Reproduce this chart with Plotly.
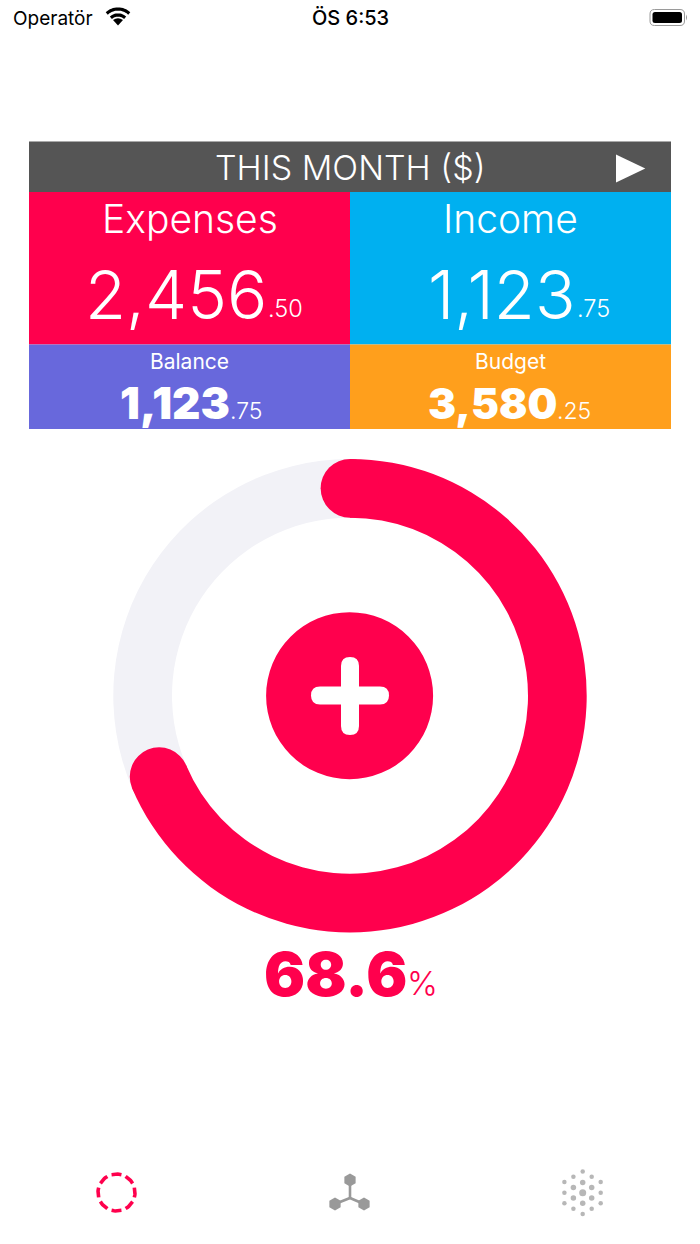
import math
import plotly.graph_objects as go

# ---- data ----
period_title = "THIS MONTH ($)"
panel_names = ["Expenses", "Income", "Balance", "Budget"]
panel_values = [2456.50, 1123.75, 1123.75, 3580.25]
spent = 2456.50
budget = 3580.25
percent_label = "68.6"
status_carrier = "Operatör"
status_time = "ÖS 6:53"

# ---- styles ----
RED, BLUE, PURPLE, ORANGE = "#FF004D", "#00B0F0", "#6868DC", "#FF9F1C"
DARK, TRACK, GREY = "#555555", "#F2F2F7", "#999999"
FONT = "Inter"
W, H = 700, 1244
CX, CY, R_OUT, R_IN = 350, 695.7, 236.7, 178


def split_value(v):
    whole, frac = f"{v:,.2f}".split(".")
    return whole, "." + frac


def rect(x0, y0, x1, y1, color):
    return dict(type="rect", x0=x0, y0=y0, x1=x1, y1=y1, fillcolor=color,
                line_width=0, layer="below", xref="x", yref="y")


def circle(cx, cy, r, color):
    return dict(type="circle", x0=cx - r, y0=cy - r, x1=cx + r, y1=cy + r,
                fillcolor=color, line_width=0, layer="above", xref="x", yref="y")


def rrect_path(x0, y0, x1, y1, r):
    return (f"M{x0+r},{y0} L{x1-r},{y0} Q{x1},{y0} {x1},{y0+r} L{x1},{y1-r} Q{x1},{y1} {x1-r},{y1} "
            f"L{x0+r},{y1} Q{x0},{y1} {x0},{y1-r} L{x0},{y0+r} Q{x0},{y0} {x0+r},{y0} Z")


def text(x, y, s, size, color="white", weight=400, anchor="center"):
    return dict(x=x, y=y, xref="x", yref="y", text=s, showarrow=False, xanchor=anchor, yanchor="middle",
                borderpad=0, font=dict(family=FONT, size=size, color=color, weight=weight))


def arc_path(cx, cy, r, a0, a1, n=16):
    pts = []
    for i in range(n + 1):
        a = math.radians(a0 + (a1 - a0) * i / n)
        pts.append((cx + r * math.sin(a), cy - r * math.cos(a)))
    return "M" + " L".join(f"{x:.2f},{y:.2f}" for x, y in pts)


shapes = [
    rect(29, 141.5, 671, 192, DARK),
    rect(29, 192, 350, 344.5, RED),
    rect(350, 192, 671, 344.5, BLUE),
    rect(29, 344.5, 350, 429, PURPLE),
    rect(350, 344.5, 671, 429, ORANGE),
]

# play button
shapes.append(dict(type="path", path="M618.5,158.5 L639.5,168.5 L618.5,178.5 Z", fillcolor="white",
                   line=dict(color="white", width=5), layer="above", xref="x", yref="y"))

# ring end caps follow the share of budget spent
share = spent / budget
R_MID = (R_OUT + R_IN) / 2
CAP = (R_OUT - R_IN) / 2
end_a = math.radians(share * 360)
shapes.append(circle(CX, CY - R_MID, CAP, RED))
shapes.append(circle(CX + R_MID * math.sin(end_a), CY - R_MID * math.cos(end_a), CAP, RED))

# add button
shapes.append(circle(349.6, CY, 83.5, RED))
shapes.append(dict(type="path", path=rrect_path(311, 686.5, 389, 704.5, 9), fillcolor="white", line_width=0,
                   layer="above", xref="x", yref="y"))
shapes.append(dict(type="path", path=rrect_path(341, 657, 359, 735, 9), fillcolor="white", line_width=0,
                   layer="above", xref="x", yref="y"))

# status bar: wifi
for r, w in ((16.5, 3.2), (10.5, 3.2)):
    shapes.append(dict(type="path", path=arc_path(118, 25.5, r, -43, 43), line=dict(color="black", width=w),
                       layer="above", xref="x", yref="y"))
shapes.append(dict(type="path", path="M118,25.5 L113,20 Q118,16.5 123,20 Z", fillcolor="black",
                   line_width=0, layer="above", xref="x", yref="y"))
# status bar: battery
shapes.append(dict(type="path", path=rrect_path(650, 9.5, 684.5, 25.5, 4.5), line=dict(color="#9a9a9a", width=1),
                   layer="above", xref="x", yref="y"))
shapes.append(dict(type="path", path=rrect_path(652.5, 12, 682, 23, 2.5), fillcolor="black", line_width=0,
                   layer="above", xref="x", yref="y"))
shapes.append(dict(type="path", path="M686,14.5 Q688,17.5 686,20.5 Z", fillcolor="#9a9a9a", line_width=0,
                   layer="above", xref="x", yref="y"))

# ---- text ----
annotations = [
    text(12, 18, status_carrier, 19, "black", 400, "left"),
    text(350, 18, status_time, 20, "black", 500),
    text(349.5, 167.5, period_title, 34, "white", 300),
]
big_layout = [(189.5, 218, 268, 294, 267), (510, 218, 577, 294, 576)]
for i, (cx, ly, split_x, vy, fx) in enumerate(big_layout):
    whole, frac = split_value(panel_values[i])
    annotations.append(text(cx, ly, panel_names[i], 39, "white", 350))
    annotations.append(text(split_x, vy, whole, 67, "white", 350, "right"))
    annotations.append(text(fx, vy + 14.5, frac, 23.5, "white", 300, "left"))
small_layout = [(189, 361, 231, 403, 228.5, 44), (510.5, 361, 557.5, 403, 556, 42)]
for j, (cx, ly, split_x, vy, fx, size) in enumerate(small_layout):
    whole, frac = split_value(panel_values[j + 2])
    annotations.append(text(cx, ly, panel_names[j + 2], 21, "white", 400))
    annotations.append(text(split_x, vy, whole, size, "white", 900, "right"))
    annotations.append(text(fx, vy + 7.5, frac, 23, "white", 300, "left"))
annotations.append(text(407.5, 973.5, percent_label, 61, RED, 900, "right"))
annotations.append(text(406, 983, "%", 33, RED, 300, "left"))

# ---- traces ----
ring = go.Pie(values=[spent, budget - spent], sort=False, direction="clockwise", rotation=0,
              hole=R_IN / R_OUT, textinfo="none", hoverinfo="skip", showlegend=False,
              marker=dict(colors=[RED, TRACK], line=dict(width=0)),
              domain=dict(x=[(CX - R_OUT) / W, (CX + R_OUT) / W],
                          y=[1 - (CY + R_OUT) / H, 1 - (CY - R_OUT) / H]))

# tab icons
dash_x, dash_y = [], []
for k in range(8):
    for t in range(-4, 5):
        a = math.radians(k * 45 + t * 15.5 / 4)
        dash_x.append(116.5 + 18.5 * math.sin(a))
        dash_y.append(1192.5 - 18.5 * math.cos(a))
    dash_x.append(None)
    dash_y.append(None)
tab1 = go.Scatter(x=dash_x, y=dash_y, mode="lines", line=dict(color=RED, width=3.6), hoverinfo="skip", showlegend=False)

links = go.Scatter(x=[350, 350, None, 350, 335, None, 350, 364], y=[1180, 1198, None, 1198, 1204, None, 1198, 1204],
                   mode="lines", line=dict(color=GREY, width=2.6), hoverinfo="skip", showlegend=False)
nodes = go.Scatter(x=[350, 335, 364], y=[1180, 1204, 1204], mode="markers",
                   marker=dict(symbol="hexagon", size=13, color=GREY, line_width=0), hoverinfo="skip", showlegend=False)

dot_x, dot_y, dot_s = [], [], []
for dx, dy, s in [(0, 0, 7), (0, -10.3, 5.5), (0, 10.6, 5.5), (-9.3, -5.3, 5.5), (9, -5.3, 5.5), (-9.3, 5.3, 5.5), (9, 5.3, 5.5),
                  (0, -21.3, 4.5), (0, 21.3, 4.5), (-9.3, -16, 4.5), (9, -16, 4.5), (-18.3, -10.6, 4.5), (18, -10.6, 4.5),
                  (-18.3, 0, 4.5), (18, 0, 4.5), (-18.3, 10.6, 4.5), (18, 10.6, 4.5), (-9.3, 16, 4.5), (9, 16, 4.5)]:
    dot_x.append(582.7 + dx)
    dot_y.append(1192.7 + dy)
    dot_s.append(s)
dots = go.Scatter(x=dot_x, y=dot_y, mode="markers", marker=dict(size=dot_s, color=GREY, line_width=0),
                  hoverinfo="skip", showlegend=False)

fig = go.Figure([tab1, links, nodes, dots, ring])
fig.update_layout(
    width=W, height=H, margin=dict(l=0, r=0, t=0, b=0), paper_bgcolor="white", plot_bgcolor="white",
    xaxis=dict(range=[0, W], visible=False, fixedrange=True),
    yaxis=dict(range=[H, 0], visible=False, fixedrange=True),
    shapes=shapes, annotations=annotations, showlegend=False,
)
fig.write_html("out.html", config=dict(displayModeBar=False),
               post_script="document.body.style.margin='0';document.body.style.overflow='hidden';")
